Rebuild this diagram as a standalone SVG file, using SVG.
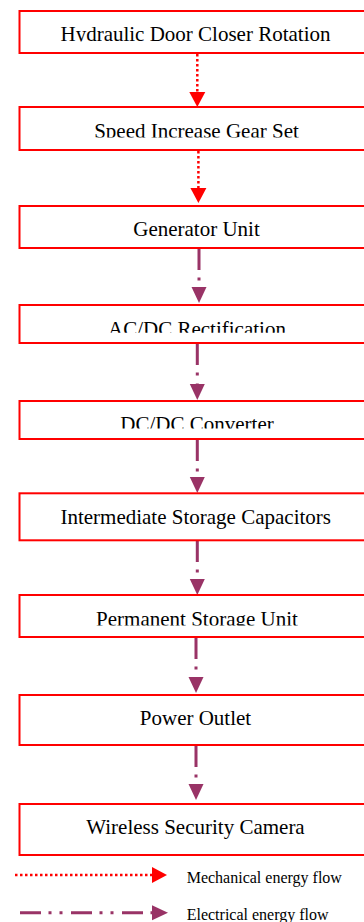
<svg xmlns="http://www.w3.org/2000/svg" width="364" height="922" viewBox="0 0 364 922">
<style>
.box{fill:#fff;stroke:#ff0000;stroke-width:2}
.lbl{font-family:"Liberation Serif","Times New Roman",serif;font-size:21px;fill:#000;text-anchor:middle}
.leg{font-family:"Liberation Serif","Times New Roman",serif;font-size:16px;fill:#000}
.mech{fill:none;stroke:#ff0000;stroke-width:2.5;stroke-dasharray:2.5 2.5}
.elec{fill:none;stroke:#993366;stroke-width:3;stroke-dasharray:21 7.5 3 8 3 8.5}
</style>
<defs>
<marker id="ar" markerUnits="userSpaceOnUse" markerWidth="15" markerHeight="16" refX="0" refY="8" orient="auto" overflow="visible">
<path d="M0,0 L15,8 L0,16 z" fill="#ff0000"/>
</marker>
<marker id="ap" markerUnits="userSpaceOnUse" markerWidth="16" markerHeight="15" refX="0" refY="7.5" orient="auto" overflow="visible">
<path d="M0,0 L16,7.5 L0,15 z" fill="#993366"/>
</marker>
<clipPath id="k1"><rect x="0" y="0" width="364" height="41.5"/></clipPath>
<clipPath id="k2"><rect x="0" y="100" width="364" height="37.5"/></clipPath>
<clipPath id="k4"><rect x="0" y="300" width="364" height="32.8"/></clipPath>
<clipPath id="k5"><rect x="0" y="400" width="364" height="28.4"/></clipPath>
<clipPath id="k7"><rect x="0" y="590" width="364" height="35.6"/></clipPath>
</defs>
<g id="connectors">
<line class="mech" x1="197.3" y1="54" x2="197.3" y2="92" marker-end="url(#ar)"/>
<line class="mech" x1="198.4" y1="151" x2="198.4" y2="188" marker-end="url(#ar)"/>
<line class="elec" x1="199" y1="249" x2="199" y2="287" marker-end="url(#ap)"/>
<line class="elec" x1="197.3" y1="344" x2="197.3" y2="384" marker-end="url(#ap)"/>
<line class="elec" x1="197.3" y1="440" x2="197.3" y2="477" marker-end="url(#ap)"/>
<line class="elec" x1="197.3" y1="541" x2="197.3" y2="579" marker-end="url(#ap)"/>
<line class="elec" x1="196" y1="638" x2="196" y2="677" marker-end="url(#ap)"/>
<line class="elec" x1="196" y1="746" x2="196" y2="784" marker-end="url(#ap)"/>
</g>
<g id="n1"><rect class="box" x="19.5" y="11" width="380" height="42"/><text class="lbl" x="195.5" y="41" clip-path="url(#k1)">Hydraulic Door Closer Rotation</text></g>
<g id="n2"><rect class="box" x="19.5" y="107" width="380" height="43"/><text class="lbl" x="196.5" y="138" clip-path="url(#k2)">Speed Increase Gear Set</text></g>
<g id="n3"><rect class="box" x="19.5" y="206" width="380" height="42"/><text class="lbl" x="196.5" y="235.7">Generator Unit</text></g>
<g id="n4"><rect class="box" x="19.5" y="305" width="380" height="38"/><text class="lbl" x="197" y="335.7" clip-path="url(#k4)">AC/DC Rectification</text></g>
<g id="n5"><rect class="box" x="19.5" y="401" width="380" height="38"/><text class="lbl" x="197" y="430.7" clip-path="url(#k5)">DC/DC Converter</text></g>
<g id="n6"><rect class="box" x="19.5" y="493.3" width="380" height="47"/><text class="lbl" x="195.7" y="524">Intermediate Storage Capacitors</text></g>
<g id="n7"><rect class="box" x="19.5" y="595" width="380" height="42"/><text class="lbl" x="197" y="625.7" clip-path="url(#k7)">Permanent Storage Unit</text></g>
<g id="n8"><rect class="box" x="19.5" y="695" width="380" height="50"/><text class="lbl" x="195.5" y="725">Power Outlet</text></g>
<g id="n9"><rect class="box" x="19.5" y="804" width="380" height="51"/><text class="lbl" x="195.5" y="834">Wireless Security Camera</text></g>
<g id="legend">
<line class="mech" x1="15" y1="875" x2="152" y2="875" marker-end="url(#ar)"/>
<text class="leg" x="186.7" y="882.7">Mechanical energy flow</text>
<line class="elec" x1="20" y1="912.7" x2="152" y2="912.7" marker-end="url(#ap)"/>
<text class="leg" x="186.7" y="919.5">Electrical energy flow</text>
</g>
</svg>
